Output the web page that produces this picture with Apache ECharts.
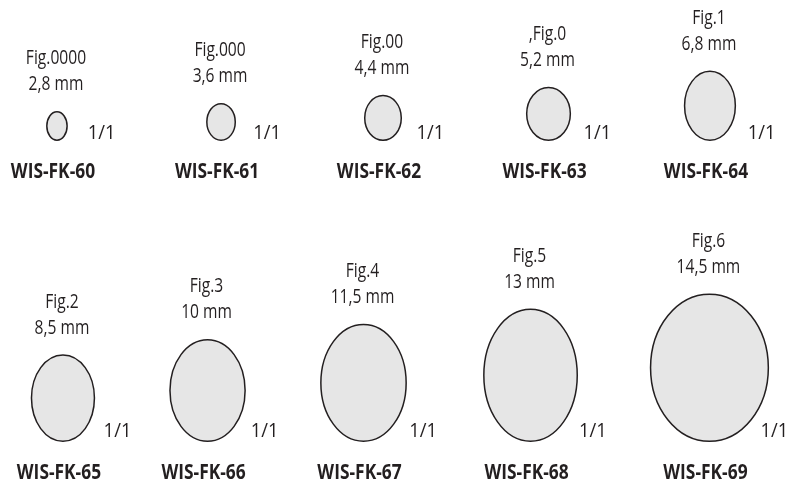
<!DOCTYPE html>
<html>
<head>
<meta charset="utf-8">
<script src="https://cdn.jsdelivr.net/npm/echarts@6/dist/echarts.min.js"></script>
<style>
html,body{margin:0;padding:0;background:#fff;}
#chart{width:792px;height:487px;}
</style>
</head>
<body>
<div id="chart"></div>
<script>
// ---- data ----
const codes = ['WIS-FK-60','WIS-FK-61','WIS-FK-62','WIS-FK-63','WIS-FK-64',
               'WIS-FK-65','WIS-FK-66','WIS-FK-67','WIS-FK-68','WIS-FK-69'];
const figures = ['Fig.0000','Fig.000','Fig.00',',Fig.0','Fig.1',
                 'Fig.2','Fig.3','Fig.4','Fig.5','Fig.6'];
const diametersMm = [2.8, 3.6, 4.4, 5.2, 6.8, 8.5, 10, 11.5, 13, 14.5];
const widthsMm = [2.0, 2.8, 3.6, 4.3, 5.0, 6.2, 7.4, 8.4, 9.2, 11.6];
const scaleLabel = '1/1';

// ---- layout (sheet coordinates in mm) ----
const sheetWidthMm = 78, sheetHeightMm = 48;
const centerXmm = [5.61, 21.77, 37.72, 54.02, 69.92, 6.20, 20.44, 35.80, 52.25, 69.87];
const rowOf = [0,0,0,0,0,1,1,1,1,1];
const rowBottomMm = [13.82, 43.49];

const FONT = "'Open Sans','Noto Sans',sans-serif";
const TEXT_COLOR = '#231f20';
const REG_SCALE = 0.78, BOLD_SCALE = 0.79;

const seriesData = codes.map((c, i) => [centerXmm[i], rowBottomMm[rowOf[i]], widthsMm[i], diametersMm[i], i]);

function fmtMm(d) { return String(d).replace('.', ',') + ' mm'; }

function renderItem(params, api) {
  const x = api.value(0), bottom = api.value(1), w = api.value(2), h = api.value(3);
  const i = api.value(4);
  const c = api.coord([x, bottom - h / 2]);
  const s = api.size([w, h]);
  const rx = s[0] / 2, ry = s[1] / 2;
  const top = c[1] - ry, bot = c[1] + ry;
  const row = rowOf[i];
  const f20 = '20px ' + FONT;
  const mid = (fs) => 0.31 * fs;
  return {
    type: 'group',
    children: [
      { type: 'ellipse', shape: { cx: c[0], cy: c[1], rx: rx, ry: ry },
        style: { fill: '#e6e6e6', stroke: '#231f20', lineWidth: 1.5 } },
      { type: 'text', x: c[0] - 1, y: top - 21 - 26 - mid(20), scaleX: REG_SCALE,
        style: { text: figures[i], font: f20, fill: TEXT_COLOR, align: 'center', verticalAlign: 'middle' } },
      { type: 'text', x: c[0] - 1, y: top - 21 - mid(20), scaleX: REG_SCALE,
        style: { text: fmtMm(diametersMm[i]), font: f20, fill: TEXT_COLOR, align: 'center', verticalAlign: 'middle' } },
      { type: 'text', x: c[0] + 26 + 0.17 * s[1], y: (row === 0 ? bot - 1 : bot - 4) - mid(20), scaleX: 0.92,
        style: { text: scaleLabel, font: f20, fill: TEXT_COLOR, align: 'left', verticalAlign: 'middle' } },
      { type: 'text', x: c[0] - 4, y: bot + 38 - mid(22), scaleX: BOLD_SCALE,
        style: { text: codes[i], font: 'bold 22px ' + FONT, fill: TEXT_COLOR, align: 'center', verticalAlign: 'middle' } }
    ]
  };
}

const chart = echarts.init(document.getElementById('chart'), null, { renderer: 'canvas' });
chart.setOption({
  animation: false,
  backgroundColor: '#ffffff',
  grid: { left: 0, right: 0, top: 0, bottom: 0 },
  xAxis: { type: 'value', min: 0, max: sheetWidthMm, show: false },
  yAxis: { type: 'value', min: 0, max: sheetHeightMm, inverse: true, show: false },
  series: [{
    type: 'custom',
    renderItem: renderItem,
    data: seriesData,
    encode: { x: 0, y: 1 },
    clip: false
  }]
});
</script>
</body>
</html>
